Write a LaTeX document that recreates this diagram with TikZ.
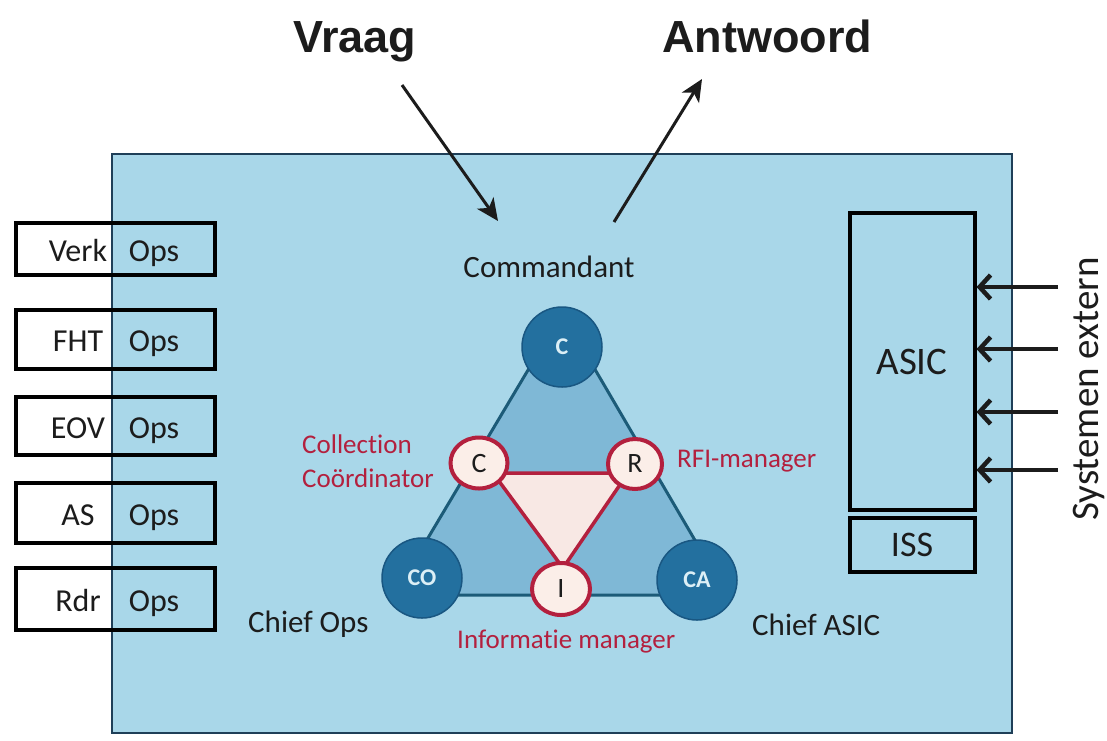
\documentclass[tikz,border=0pt]{standalone}
\usepackage{fontspec}
\setmainfont{Carlito}[Ligatures={NoCommon,NoRequired,NoContextual}]
\newfontfamily\headfont{Liberation Sans}
\usetikzlibrary{arrows.meta,shapes.geometric}

\definecolor{panel}{HTML}{A9D7E9}
\definecolor{panelline}{HTML}{1F3F58}
\definecolor{trifill}{HTML}{7FB8D6}
\definecolor{triline}{HTML}{1C5B78}
\definecolor{rolefill}{HTML}{23709F}
\definecolor{roleline}{HTML}{195782}
\definecolor{rolelabel}{HTML}{DCEFF6}
\definecolor{crimson}{HTML}{B3203E}
\definecolor{cream}{HTML}{FBEEE8}
\definecolor{pinkfill}{HTML}{F8E8E4}
\definecolor{ink}{HTML}{1C1C1C}

\tikzset{
  headtext/.style={font=\headfont\bfseries\fontsize{45}{50}\selectfont, text=ink, inner sep=0pt},
  bodytext/.style={font=\fontsize{31}{36}\selectfont, text=ink, inner sep=0pt},
  redtext/.style={font=\fontsize{27}{32}\selectfont, text=crimson, inner sep=0pt},
  opsbox/.style={draw=black, line width=4pt, minimum width=199pt, minimum height=#1, inner sep=0pt},
  opsword/.style={font=\fontsize{32}{36}\selectfont, text=ink, inner sep=0pt, anchor=base},
  role/.style={circle, fill=rolefill, draw=roleline, line width=1.5pt, minimum size=80pt, inner sep=0pt,
    font=\bfseries\fontsize{24}{28}\selectfont, text=rolelabel},
  sub/.style={ellipse, fill=cream, draw=crimson, line width=4pt, minimum width=#1, inner sep=0pt,
    font=\fontsize{28}{32}\selectfont, text=ink},
  qarrow/.style={draw=ink, line width=3pt, -{Stealth[length=22pt,width=20pt,inset=6pt]}},
  inarrow/.style={draw=ink, line width=4.5pt, -{Straight Barb[length=11pt,width=24pt]}},
}

\begin{document}
\begin{tikzpicture}[x=1pt,y=-1pt]
\useasboundingbox (0,0) rectangle (1107,740);
\fill[white] (0,0) rectangle (1107,740);

% main panel
\node[draw=panelline, fill=panel, line width=2pt, minimum width=900pt, minimum height=579pt, inner sep=0pt]
  (panel) at (562,443.5) {};

% question and answer
\node[headtext, anchor=base] (vraag) at (355,52) {Vraag};
\node[headtext, anchor=base] (antwoord) at (767,52) {Antwoord};
\node[bodytext, anchor=base] (cmd) at (549,277) {Commandant};
\coordinate (vq1) at (402,85);
\coordinate (vq2) at (498,221);
\coordinate (aw1) at (614,222);
\coordinate (aw2) at (702,79);
\draw[qarrow] (vq1) -- (vq2);
\draw[qarrow] (aw1) -- (aw2);

% operations boxes on the left edge
\foreach \nm/\word/\yt/\yb in {verk/Verk/223/275, fht/FHT/310/369, eov/EOV/397/455, as/AS/483/543, rdr/Rdr/568/630}{
  \pgfmathsetmacro{\hh}{\yb-\yt}
  \pgfmathsetmacro{\yc}{(\yb+\yt)/2}
  \pgfmathsetmacro{\yl}{\yc+12}
  \node[opsbox=\hh pt] (\nm) at (115.5,\yc) {};
  \node[opsword] (\nm-a) at (78,\yl) {\word};
  \node[opsword] (\nm-b) at (154,\yl) {Ops};
}

% big triangle of the staff roles
\coordinate (t1) at (562,313);
\coordinate (t2) at (394,595);
\coordinate (t3) at (727,595);
\draw[fill=trifill, draw=triline, line width=3pt, line join=round] (t1) -- (t2) -- (t3) -- cycle;

% inner triangle
\coordinate (s1) at (493,473);
\coordinate (s2) at (628,473);
\coordinate (s3) at (563,568);
\draw[fill=pinkfill, draw=crimson, line width=3.5pt, line join=round] (s1) -- (s2) -- (s3) -- cycle;

\node[role] (rc) at (562,347) {C};
\node[role] (rco) at (422,578) {CO};
\node[role] (rca) at (697,580) {CA};

\node[sub=57pt, minimum height=51pt] (sc) at (479,463) {C};
\node[sub=54pt, minimum height=50pt] (sr) at (635,464) {R};
\node[sub=58pt, minimum height=52pt] (si) at (561,589) {I};

% role labels (the kerns keep t and i as separate letters)
\node[redtext, anchor=base west] (cc1) at (302,453) {Collect\kern0pt ion};
\node[redtext, anchor=base west] (cc2) at (302,487) {Coördinator};
\node[redtext, anchor=base west] (rfi) at (677,467) {RFI-manager};
\node[redtext, anchor=base west] (im) at (457,648) {Informat\kern0pt ie manager};
\node[bodytext, anchor=base west] (cops) at (248,632) {Chief Ops};
\node[bodytext, anchor=base west] (casic) at (752,635) {Chief ASIC};

% ASIC and ISS
\node[draw=black, line width=4pt, minimum width=125pt, minimum height=297pt, inner sep=0pt,
  font=\fontsize{39}{44}\selectfont, text=ink] (asic) at (912,361.5) {ASIC};
\node[draw=black, line width=4pt, minimum width=125pt, minimum height=54pt, inner sep=0pt,
  font=\fontsize{36}{40}\selectfont, text=ink] (iss) at (912,545) {ISS};

% external systems feeding ASIC
\node[font=\fontsize{39}{44}\selectfont, text=ink, rotate=90, inner sep=0pt] (ext) at (1089,389) {Systemen extern};
\foreach \i/\yy in {1/287, 2/349, 3/412, 4/470}{
  \coordinate (e\i) at (1058,\yy);
  \draw[inarrow] (e\i) -- (asic.east |- e\i);
}
\end{tikzpicture}
\end{document}
